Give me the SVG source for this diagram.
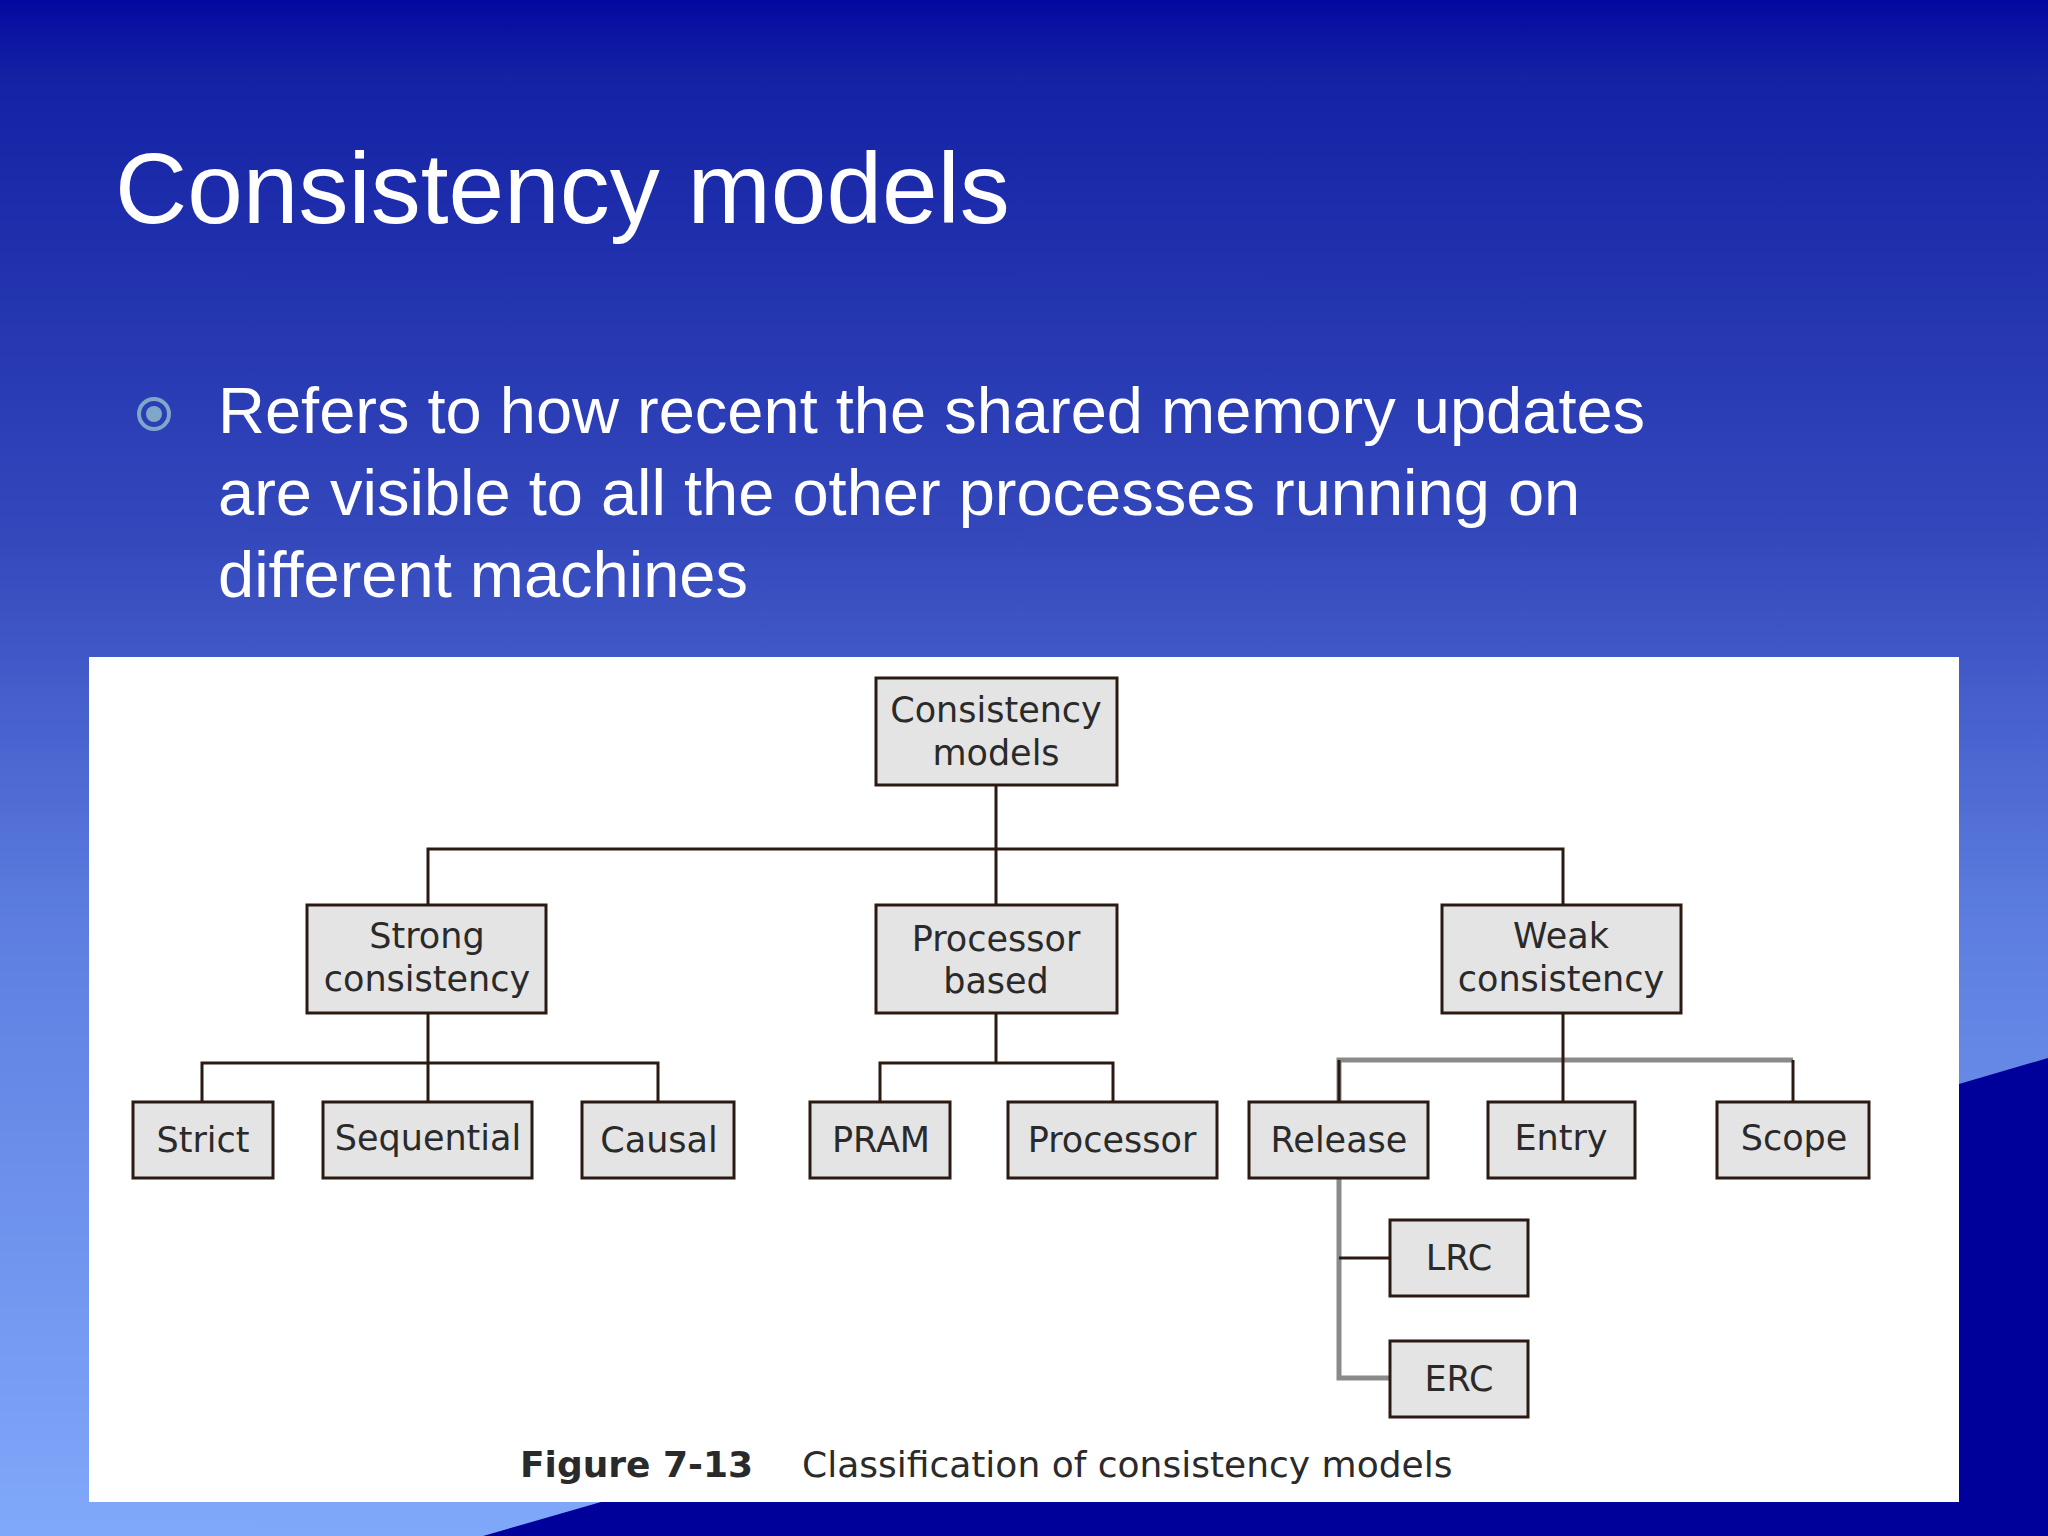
<svg xmlns="http://www.w3.org/2000/svg" width="2048" height="1536" viewBox="0 0 2048 1536">
<defs>
<linearGradient id="bg" x1="0" y1="0" x2="0" y2="1">
<stop offset="0" stop-color="#0508a0"/>
<stop offset="0.05" stop-color="#1422a4"/>
<stop offset="0.35" stop-color="#3448bc"/>
<stop offset="0.6" stop-color="#5d7ee0"/>
<stop offset="1" stop-color="#80a8fa"/>
</linearGradient>
<style>
.n rect{fill:#e4e4e4;stroke:#2a1a12;stroke-width:3}
.n text{font-family:"DejaVu Sans",Verdana,sans-serif;font-size:35px;fill:#2a2a2a;text-anchor:middle}
.c path{fill:none;stroke:#2a1a12;stroke-width:3}
.c .g{stroke:#8a8a8a;stroke-width:5}
</style>
</defs>
<rect width="2048" height="1536" fill="url(#bg)"/>
<polygon points="1959,1084 2048,1058 2048,1536 483,1536 601,1502 1959,1502" fill="#00009a"/>
<text x="115" y="223" font-family="Liberation Sans,Arial,sans-serif" font-size="100" fill="#ffffff">Consistency models</text>
<circle cx="154" cy="414" r="15" fill="none" stroke="#7fa8c8" stroke-width="4"/>
<circle cx="154" cy="414" r="8" fill="#7fa8c8"/>
<g font-family="Liberation Sans,Arial,sans-serif" font-size="65" fill="#ffffff">
<text x="218" y="433">Refers to how recent the shared memory updates</text>
<text x="218" y="515">are visible to all the other processes running on</text>
<text x="218" y="597">different machines</text>
</g>
<rect x="89" y="657" width="1870" height="845" fill="#ffffff"/>
<g class="c">
<path d="M996 785V849M428 905V849H1563V905M996 849V905"/>
<path d="M428 1013V1063M202 1102V1063H658V1102M428 1063V1102"/>
<path d="M996 1013V1063M880 1102V1063H1113V1102"/>
<path class="g" d="M1339 1102V1060H1793"/>
<path d="M1339 1060V1102M1793 1060V1102M1563 1013V1102"/>
<path class="g" d="M1339 1178V1378H1390"/>
<path d="M1339 1258H1390"/>
</g>
<g class="n" id="root"><rect x="876" y="678" width="241" height="107"/><text x="996" y="722">Consistency</text><text x="996" y="765">models</text></g>
<g class="n" id="strong"><rect x="307" y="905" width="239" height="108"/><text x="427" y="948">Strong</text><text x="427" y="991">consistency</text></g>
<g class="n" id="proc"><rect x="876" y="905" width="241" height="108"/><text x="996" y="951">Processor</text><text x="996" y="993">based</text></g>
<g class="n" id="weak"><rect x="1442" y="905" width="239" height="108"/><text x="1561" y="948">Weak</text><text x="1561" y="991">consistency</text></g>
<g class="n" id="strict"><rect x="133" y="1102" width="140" height="76"/><text x="203" y="1152">Strict</text></g>
<g class="n" id="seq"><rect x="323" y="1102" width="209" height="76"/><text x="428" y="1150">Sequential</text></g>
<g class="n" id="causal"><rect x="582" y="1102" width="152" height="76"/><text x="659" y="1152">Causal</text></g>
<g class="n" id="pram"><rect x="810" y="1102" width="140" height="76"/><text x="881" y="1152">PRAM</text></g>
<g class="n" id="processor"><rect x="1008" y="1102" width="209" height="76"/><text x="1112" y="1152">Processor</text></g>
<g class="n" id="release"><rect x="1249" y="1102" width="179" height="76"/><text x="1339" y="1152">Release</text></g>
<g class="n" id="entry"><rect x="1488" y="1102" width="147" height="76"/><text x="1561" y="1150">Entry</text></g>
<g class="n" id="scope"><rect x="1717" y="1102" width="152" height="76"/><text x="1794" y="1150">Scope</text></g>
<g class="n" id="lrc"><rect x="1390" y="1220" width="138" height="76"/><text x="1459" y="1270">LRC</text></g>
<g class="n" id="erc"><rect x="1390" y="1341" width="138" height="76"/><text x="1459" y="1391">ERC</text></g>
<text x="520" y="1477" font-family="DejaVu Sans,Verdana,sans-serif" font-size="36" fill="#2a2a2a"><tspan font-weight="bold">Figure 7-13</tspan><tspan x="802">Classification of consistency models</tspan></text>
</svg>
